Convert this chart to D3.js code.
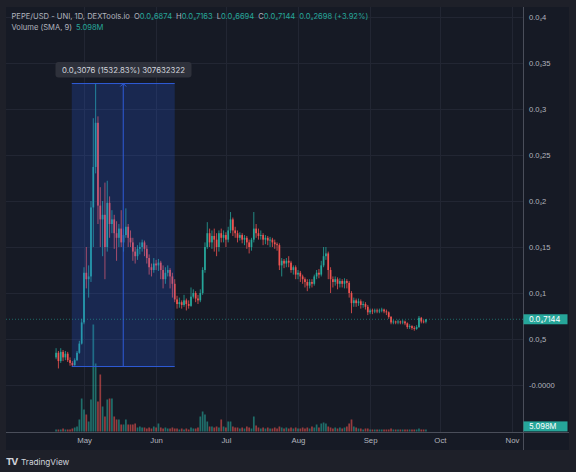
<!DOCTYPE html>
<html lang="en">
<head>
<meta charset="utf-8">
<title>PEPE/USD - UNI, 1D</title>
<style>
    body {
        margin: 0;
        background: #1e2029;
    }
    svg {
        display: block;
        font-family: Inter, Roboto, "Liberation Sans", sans-serif;
    }
    .axis text {
        fill: #b2b5be;
    }
</style>
</head>
<body>
<div id="chart"></div>
<script src="https://cdn.jsdelivr.net/npm/d3@7"></script>
<script>
// daily candles from 19 Apr 2023, prices in units of 0.0001
const startDay = new Date(2023, 3, 19);

const opens = [
    0.030, 0.035, 0.026, 0.036, 0.030, 0.034, 0.027, 0.024, 0.0215, 0.027,
    0.035, 0.045, 0.068, 0.122, 0.115, 0.118, 0.193, 0.237, 0.285, 0.195,
    0.180, 0.185, 0.150, 0.198, 0.175, 0.180, 0.165, 0.160, 0.170, 0.155,
    0.163, 0.172, 0.160, 0.155, 0.145, 0.140, 0.148, 0.150, 0.155, 0.148,
    0.138, 0.128, 0.125, 0.132, 0.130, 0.133, 0.125, 0.115, 0.122, 0.125,
    0.118, 0.110, 0.093, 0.088, 0.090, 0.087, 0.092, 0.088, 0.086, 0.096,
    0.100, 0.094, 0.092, 0.100, 0.125, 0.150, 0.165, 0.155, 0.162, 0.158,
    0.150, 0.165, 0.160, 0.163, 0.158, 0.168, 0.180, 0.168, 0.165, 0.160,
    0.163, 0.158, 0.160, 0.155, 0.150, 0.158, 0.170, 0.165, 0.162, 0.163,
    0.158, 0.160, 0.157, 0.158, 0.155, 0.153, 0.152, 0.130, 0.135, 0.132,
    0.135, 0.133, 0.125, 0.128, 0.120, 0.122, 0.118, 0.115, 0.112, 0.108,
    0.112, 0.110, 0.118, 0.122, 0.120, 0.130, 0.140, 0.143, 0.125, 0.115,
    0.112, 0.115, 0.110, 0.113, 0.110, 0.113, 0.111, 0.100, 0.089, 0.092,
    0.089, 0.091, 0.087, 0.088, 0.085, 0.079, 0.081, 0.080, 0.081, 0.080,
    0.081, 0.082, 0.080, 0.079, 0.074, 0.068, 0.069, 0.068, 0.069, 0.068,
    0.069, 0.067, 0.063, 0.064, 0.062, 0.061, 0.063, 0.073, 0.069, 0.06874
];
const highs = [
    0.040, 0.037, 0.040, 0.038, 0.037, 0.036, 0.030, 0.026, 0.029, 0.037,
    0.048, 0.072, 0.128, 0.150, 0.130, 0.200, 0.290, 0.32767, 0.292, 0.215,
    0.200, 0.220, 0.222, 0.205, 0.190, 0.185, 0.178, 0.175, 0.190, 0.170,
    0.192, 0.175, 0.168, 0.160, 0.150, 0.152, 0.155, 0.158, 0.157, 0.152,
    0.142, 0.132, 0.138, 0.136, 0.137, 0.135, 0.130, 0.128, 0.130, 0.127,
    0.122, 0.115, 0.097, 0.095, 0.092, 0.098, 0.094, 0.092, 0.106, 0.104,
    0.102, 0.098, 0.104, 0.128, 0.155, 0.177, 0.170, 0.168, 0.170, 0.165,
    0.168, 0.170, 0.168, 0.166, 0.172, 0.188, 0.182, 0.172, 0.168, 0.166,
    0.165, 0.163, 0.162, 0.158, 0.160, 0.188, 0.175, 0.170, 0.168, 0.165,
    0.163, 0.162, 0.161, 0.160, 0.158, 0.155, 0.154, 0.138, 0.137, 0.138,
    0.140, 0.135, 0.130, 0.130, 0.125, 0.124, 0.120, 0.117, 0.115, 0.115,
    0.115, 0.120, 0.125, 0.126, 0.135, 0.150, 0.150, 0.145, 0.128, 0.118,
    0.118, 0.117, 0.116, 0.115, 0.116, 0.115, 0.113, 0.102, 0.095, 0.094,
    0.094, 0.093, 0.091, 0.090, 0.087, 0.083, 0.083, 0.083, 0.083, 0.083,
    0.084, 0.083, 0.082, 0.080, 0.075, 0.071, 0.070, 0.071, 0.070, 0.071,
    0.070, 0.068, 0.066, 0.065, 0.064, 0.065, 0.075, 0.074, 0.071, 0.07163
];
const lows = [
    0.028, 0.018, 0.024, 0.026, 0.027, 0.025, 0.021, 0.02007, 0.021, 0.026,
    0.034, 0.044, 0.066, 0.105, 0.095, 0.112, 0.150, 0.230, 0.175, 0.150,
    0.140, 0.115, 0.145, 0.160, 0.165, 0.148, 0.135, 0.150, 0.150, 0.145,
    0.160, 0.150, 0.150, 0.135, 0.132, 0.136, 0.142, 0.145, 0.140, 0.132,
    0.120, 0.118, 0.122, 0.125, 0.124, 0.115, 0.105, 0.110, 0.118, 0.105,
    0.095, 0.090, 0.083, 0.084, 0.083, 0.085, 0.081, 0.083, 0.085, 0.094,
    0.090, 0.088, 0.090, 0.098, 0.122, 0.148, 0.150, 0.148, 0.145, 0.140,
    0.145, 0.155, 0.155, 0.150, 0.155, 0.165, 0.162, 0.160, 0.155, 0.157,
    0.154, 0.152, 0.148, 0.143, 0.146, 0.155, 0.160, 0.158, 0.158, 0.152,
    0.153, 0.152, 0.150, 0.150, 0.148, 0.146, 0.125, 0.118, 0.127, 0.128,
    0.128, 0.122, 0.120, 0.115, 0.115, 0.112, 0.110, 0.106, 0.102, 0.105,
    0.106, 0.108, 0.115, 0.116, 0.118, 0.128, 0.136, 0.115, 0.100, 0.106,
    0.108, 0.104, 0.106, 0.106, 0.105, 0.105, 0.095, 0.078, 0.085, 0.085,
    0.086, 0.083, 0.084, 0.082, 0.076, 0.077, 0.077, 0.078, 0.078, 0.078,
    0.079, 0.078, 0.076, 0.072, 0.066, 0.066, 0.066, 0.066, 0.066, 0.066,
    0.065, 0.061, 0.061, 0.060, 0.059, 0.060, 0.062, 0.067, 0.067, 0.06694
];
const closes = [
    0.035, 0.026, 0.036, 0.030, 0.034, 0.027, 0.024, 0.0215, 0.027, 0.035,
    0.045, 0.068, 0.122, 0.115, 0.118, 0.193, 0.237, 0.285, 0.195, 0.180,
    0.185, 0.150, 0.198, 0.175, 0.180, 0.165, 0.160, 0.170, 0.155, 0.163,
    0.172, 0.160, 0.155, 0.145, 0.140, 0.148, 0.150, 0.155, 0.148, 0.138,
    0.128, 0.125, 0.132, 0.130, 0.133, 0.125, 0.115, 0.122, 0.125, 0.118,
    0.110, 0.093, 0.088, 0.090, 0.087, 0.092, 0.088, 0.086, 0.096, 0.100,
    0.094, 0.092, 0.100, 0.125, 0.150, 0.165, 0.155, 0.162, 0.158, 0.150,
    0.165, 0.160, 0.163, 0.158, 0.168, 0.180, 0.168, 0.165, 0.160, 0.163,
    0.158, 0.160, 0.155, 0.150, 0.158, 0.170, 0.165, 0.162, 0.163, 0.158,
    0.160, 0.157, 0.158, 0.155, 0.153, 0.152, 0.130, 0.135, 0.132, 0.135,
    0.133, 0.125, 0.128, 0.120, 0.122, 0.118, 0.115, 0.112, 0.108, 0.112,
    0.110, 0.118, 0.122, 0.120, 0.130, 0.140, 0.143, 0.125, 0.115, 0.112,
    0.115, 0.110, 0.113, 0.110, 0.113, 0.111, 0.100, 0.089, 0.092, 0.089,
    0.091, 0.087, 0.088, 0.085, 0.079, 0.081, 0.080, 0.081, 0.080, 0.081,
    0.082, 0.080, 0.079, 0.074, 0.068, 0.069, 0.068, 0.069, 0.068, 0.069,
    0.067, 0.063, 0.064, 0.062, 0.061, 0.063, 0.073, 0.069, 0.06874, 0.07144
];
// volume in millions
const volumes = [
    2, 2, 2, 3, 2, 2, 2, 3, 4, 5,
    12, 33, 22, 17, 10, 32, 107, 68, 30, 57,
    25, 15, 32, 33, 33, 15, 12, 12, 7, 7,
    12, 7, 7, 7, 8, 4, 5, 4, 4, 3,
    4, 3, 5, 4, 8, 4, 3, 4, 3, 3,
    4, 3, 3, 2, 3, 2, 3, 2, 4, 3,
    3, 4, 15, 20, 17, 10, 5, 5, 4, 5,
    4, 12, 5, 4, 10, 10, 5, 4, 4, 3,
    4, 3, 5, 4, 3, 15, 6, 4, 3, 4,
    3, 4, 3, 3, 4, 3, 5, 4, 3, 4,
    3, 4, 3, 4, 3, 3, 4, 3, 4, 3,
    5, 4, 7, 4, 8, 9, 8, 5, 4, 3,
    4, 3, 4, 3, 4, 5, 8, 12, 5, 4,
    3, 3, 2, 3, 3, 2, 2, 2, 2, 2,
    2, 2, 2, 2, 3, 2, 2, 2, 2, 2,
    2, 2, 2, 2, 2, 2, 3, 2, 2, 2
];

const priceTicks = [0, 0.05, 0.1, 0.15, 0.2, 0.25, 0.3, 0.35, 0.4];
const priceTickLabels = ["-0.0000", "0.0₄5", "0.0₄1", "0.0₄15", "0.0₄2", "0.0₄25", "0.0₄3", "0.0₄35", "0.0₄4"];
const monthTicks = [
    new Date(2023, 4, 1), new Date(2023, 5, 1), new Date(2023, 6, 1), new Date(2023, 7, 1),
    new Date(2023, 8, 1), new Date(2023, 9, 1), new Date(2023, 10, 1)
];

const lastPriceLabel = "0.0₄7144";
const volumeSma = 5.098;
const volumeSmaLabel = "5.098M";
const headerParts = [
    ["O", "0.0₄6874"], ["H", "0.0₄7163"], ["L", "0.0₄6694"], ["C", "0.0₄7144"]
];
const changeLabel = "0.0₄2698 (+3.92%)";

// price range measurement (candle indexes)
const measureFrom = 7;
const measureTo = 51;
const measurePeak = 17;
const measureLabel = "0.0₄3076 (1532.83%) 307632322";

const up = "#26a69a";
const down = "#ef5350";

const width = 576, height = 472;
const svg = d3.select("#chart")
    .append("svg")
    .attr("width", width)
    .attr("height", height);

// writes a label, shrinking the subscript zeros-count so it reads like TradingView's
function addText(sel, str) {
    str.split(/(₄)/).forEach(part => {
        if (!part) return;
        const ts = sel.append("tspan").text(part);
        if (part === "₄") ts.attr("font-size", "0.8em");
    });
    return sel;
}

// frame + pane
svg.append("rect").attr("width", width).attr("height", height).attr("fill", "#1e2029");
svg.append("rect").attr("x", 6).attr("y", 7).attr("width", 563).attr("height", 443).attr("fill", "#161a25");

const candles = closes.map((c, i) => ({
    date: d3.timeDay.offset(startDay, i),
    o: opens[i], h: highs[i], l: lows[i], c: c, v: volumes[i]
}));

const x = d3.scaleTime().domain([monthTicks[0], monthTicks[6]]).range([84, 512]);
const y = d3.scaleLinear().domain([0, 0.4]).range([385, 17]);
const yVol = d3.scaleLinear().domain([0, 110]).range([431.5, 321.5]);

svg.append("clipPath").attr("id", "pane")
    .append("rect").attr("x", 6).attr("y", 7).attr("width", 517).attr("height", 425);

// grid
const grid = svg.append("g").attr("stroke", "#222633").attr("stroke-width", 1);
grid.selectAll(".gx").data(monthTicks).join("line")
    .attr("x1", d => Math.round(x(d)) + 0.5).attr("x2", d => Math.round(x(d)) + 0.5)
    .attr("y1", 7).attr("y2", 432);
grid.selectAll(".gy").data(priceTicks).join("line")
    .attr("x1", 6).attr("x2", 523)
    .attr("y1", d => Math.round(y(d)) + 0.5).attr("y2", d => Math.round(y(d)) + 0.5);

const pane = svg.append("g").attr("clip-path", "url(#pane)");

// volume bars
pane.append("g").selectAll("rect").data(candles).join("rect")
    .attr("x", d => x(d.date) - 0.85)
    .attr("width", 1.7)
    .attr("y", d => yVol(d.v))
    .attr("height", d => yVol(0) - yVol(d.v))
    .attr("fill", d => d.c >= d.o ? up : down)
    .attr("opacity", 0.6);

// candles
const cg = pane.append("g");
cg.selectAll("line").data(candles).join("line")
    .attr("x1", d => x(d.date)).attr("x2", d => x(d.date))
    .attr("y1", d => y(d.h)).attr("y2", d => y(d.l))
    .attr("stroke", d => d.c >= d.o ? up : down)
    .attr("stroke-width", 0.8);
cg.selectAll("rect").data(candles).join("rect")
    .attr("x", d => x(d.date) - 0.85)
    .attr("width", 1.7)
    .attr("y", d => y(Math.max(d.o, d.c)))
    .attr("height", d => Math.max(0.8, Math.abs(y(d.o) - y(d.c))))
    .attr("fill", d => d.c >= d.o ? up : down);

// measure box
const mx0 = x(candles[measureFrom].date) - 0.6;
const mx1 = x(candles[measureTo].date);
const my0 = y(candles[measureFrom].l);
const my1 = y(candles[measurePeak].h);
const mxm = (mx0 + mx1) / 2;
const meas = svg.append("g");
meas.append("rect")
    .attr("x", mx0).attr("y", my1).attr("width", mx1 - mx0).attr("height", my0 - my1)
    .attr("fill", "rgba(41, 98, 255, 0.2)");
meas.selectAll("line.h").data([my0, my1]).join("line")
    .attr("x1", mx0).attr("x2", mx1).attr("y1", d => d).attr("y2", d => d)
    .attr("stroke", "#2f5bd8").attr("stroke-width", 1);
meas.append("line")
    .attr("x1", mxm).attr("x2", mxm).attr("y1", my0).attr("y2", my1)
    .attr("stroke", "#2f5bd8").attr("stroke-width", 1);
meas.append("path")
    .attr("d", `M${mxm - 3},${my1 + 3}L${mxm},${my1}L${mxm + 3},${my1 + 3}`)
    .attr("fill", "none").attr("stroke", "#2f5bd8").attr("stroke-width", 1);
meas.append("rect")
    .attr("x", 55.5).attr("y", 62).attr("width", 136).attr("height", 15.5).attr("rx", 3)
    .attr("fill", "#2e313b");
addText(meas.append("text")
    .attr("x", 123.5).attr("y", 72.8).attr("text-anchor", "middle")
    .attr("font-size", 7.8).attr("fill", "#d1d4dc"), measureLabel);

// last price line
const last = candles[candles.length - 1];
svg.append("line")
    .attr("x1", 6).attr("x2", 523)
    .attr("y1", y(last.c)).attr("y2", y(last.c))
    .attr("stroke", up).attr("stroke-width", 0.7).attr("stroke-dasharray", "1,2")
    .attr("opacity", 0.8);

// borders
svg.append("line").attr("x1", 523.5).attr("x2", 523.5).attr("y1", 7).attr("y2", 450)
    .attr("stroke", "#4a4e5a");
svg.append("line").attr("x1", 6).attr("x2", 569).attr("y1", 432.5).attr("y2", 432.5)
    .attr("stroke", "#4a4e5a");

// price axis
const yAxis = svg.append("g")
    .attr("class", "axis")
    .attr("transform", "translate(523,0)")
    .call(d3.axisRight(y).tickValues(priceTicks).tickSize(0).tickPadding(6)
        .tickFormat(""))
    .call(g => g.select(".domain").remove());
yAxis.selectAll(".tick text")
    .attr("font-size", 7.6).attr("font-family", null)
    .each(function (d, i) { addText(d3.select(this), priceTickLabels[i]); });

// time axis
svg.append("g")
    .attr("class", "axis")
    .attr("transform", "translate(0,432)")
    .call(d3.axisBottom(x).tickValues(monthTicks).tickSize(0).tickPadding(5)
        .tickFormat(d3.timeFormat("%b")))
    .call(g => g.select(".domain").remove())
    .selectAll("text").attr("font-size", 7.8).attr("font-family", null);

// axis value tags
function tag(yc, label) {
    svg.append("rect").attr("x", 523.5).attr("y", yc - 5).attr("width", 44).attr("height", 10)
        .attr("fill", up);
    addText(svg.append("text").attr("x", 529).attr("y", yc + 2.9)
        .attr("font-size", 7.6).attr("fill", "#ffffff"), label);
}
tag(y(last.c), lastPriceLabel);
tag(yVol(volumeSma), volumeSmaLabel);

// legend
const legend = svg.append("g").attr("font-size", 7.6);
const head = legend.append("text").attr("x", 11.5).attr("y", 19);
head.append("tspan").attr("fill", "#b2b5be").text("PEPE/USD - UNI, 1D, DEXTools.io");
headerParts.forEach(p => {
    head.append("tspan").attr("fill", "#b2b5be").attr("dx", 4).text(p[0]);
    addText(head.append("tspan").attr("fill", up), p[1]);
});
addText(head.append("tspan").attr("fill", up).attr("dx", 4), changeLabel);
const volLine = legend.append("text").attr("x", 11.5).attr("y", 30);
volLine.append("tspan").attr("fill", "#b2b5be").text("Volume (SMA, 9)");
volLine.append("tspan").attr("fill", up).attr("dx", 4).text(volumeSmaLabel);

// TradingView mark
svg.append("text").attr("x", 6).attr("y", 465).attr("font-size", 9.5).attr("font-weight", "bold")
    .attr("fill", "#d1d4dc").attr("letter-spacing", -1.2).text("TV");
svg.append("text").attr("x", 21).attr("y", 465).attr("font-size", 8.2).attr("fill", "#d1d4dc")
    .text("TradingView");
</script>
</body>
</html>
